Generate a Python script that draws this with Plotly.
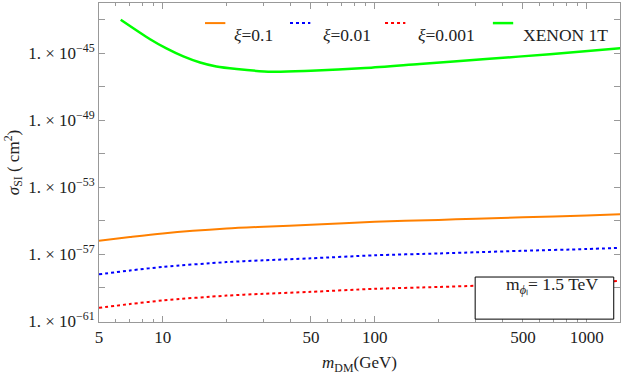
import plotly.graph_objects as go

# dark-matter mass (GeV) for the model curves
m_dm = [5, 7, 10, 20, 30, 50, 100, 200, 300, 500, 1000, 1450]
sigma_xi_01 = [6.5e-57, 1.1e-56, 1.8e-56, 3.5e-56, 4.5e-56, 5.9e-56, 8.9e-56,
               1.15e-55, 1.35e-55, 1.65e-55, 2.1e-55, 2.5e-55]
sigma_xi_001 = [6.5e-59, 1.1e-58, 1.8e-58, 3.5e-58, 4.5e-58, 5.9e-58, 8.9e-58,
                1.15e-57, 1.35e-57, 1.65e-57, 2.1e-57, 2.5e-57]
sigma_xi_0001 = [6.5e-61, 1.1e-60, 1.8e-60, 3.5e-60, 4.5e-60, 5.9e-60, 8.9e-60,
                 1.15e-59, 1.35e-59, 1.65e-59, 2.1e-59, 2.7e-59]

# XENON 1T limit
m_xenon = [6.33, 8.71, 10.4, 12.5, 15.0, 17.9, 22.3, 32.6, 50, 90, 163, 335, 670, 1450]
sigma_xenon = [1.0e-43, 6.9e-45, 1.95e-45, 6.5e-46, 2.8e-46, 1.62e-46, 1.15e-46,
               7.9e-47, 9.1e-47, 1.32e-46, 2.3e-46, 4.5e-46, 8.9e-46, 2.0e-45]

x_ticks = [5, 10, 50, 100, 500, 1000]
x_minor = [6, 7, 8, 9, 20, 30, 40, 60, 70, 80, 90, 200, 300, 400, 600, 700, 800, 900]
y_exps = [-61, -57, -53, -49, -45]
y_minor_exps = [-59, -55, -51, -47, -43]

FONT = "Liberation Serif"
TXT = "#222"

series = [
    ("<i>ξ</i>=0.1", m_dm, sigma_xi_01, "rgb(255,128,0)", "solid", 2),
    ("<i>ξ</i>=0.01", m_dm, sigma_xi_001, "rgb(0,0,255)", "dot", 2),
    ("<i>ξ</i>=0.001", m_dm, sigma_xi_0001, "rgb(255,0,0)", "dot", 2),
    ("XENON 1T", m_xenon, sigma_xenon, "rgb(0,255,0)", "solid", 2.5),
]

fig = go.Figure()
for name, xs, ys, color, dash, w in series:
    fig.add_trace(go.Scatter(x=xs, y=ys, name=name, mode="lines", showlegend=False,
                             line=dict(color=color, width=w, dash=dash, shape="spline", smoothing=0.8)))

# legend drawn by hand (Mathematica-style compact legend inside the frame)
legend_line_x = [0.2035, 0.3666, 0.549, 0.756]   # paper units
legend_text_x = [0.255, 0.426, 0.608, 0.810]
legend_y = 0.937
for (name, _, _, color, dash, w), lx, tx in zip(series, legend_line_x, legend_text_x):
    fig.add_shape(type="line", xref="paper", yref="paper", x0=lx, x1=lx + 0.039,
                  y0=legend_y, y1=legend_y, line=dict(color=color, width=w, dash=dash))
    fig.add_annotation(xref="paper", yref="paper", x=tx, y=legend_y, xanchor="left",
                       showarrow=False, text=name, font=dict(family=FONT, size=17.5, color=TXT))

axis_common = dict(showgrid=False, zeroline=False, showline=True, linecolor="#999",
                   linewidth=1, mirror="allticks", ticks="inside", tickcolor="#999",
                   automargin=False, tickfont=dict(family=FONT, size=17, color=TXT))

fig.update_xaxes(type="log", range=[0.699, 3.157], tickvals=x_ticks,
                 ticktext=[str(v) for v in x_ticks], ticklen=6,
                 minor=dict(tickvals=x_minor, ticks="inside", ticklen=3, tickcolor="#999"),
                 title=dict(text="<i>m</i><sub>DM</sub>(GeV)", font=dict(family=FONT, size=17, color=TXT),
                            standoff=16),
                 **axis_common)
fig.update_yaxes(type="log", range=[-61.03, -42.0], tickvals=[10.0 ** e for e in y_exps],
                 ticktext=[f"1. × 10<sup>−{-e}</sup>" for e in y_exps], ticklen=6,
                 minor=dict(tickvals=[10.0 ** e for e in y_minor_exps], ticks="inside",
                            ticklen=6, tickcolor="#999"),
                 title=dict(text="<i>σ</i><sub>SI</sub> ( cm<sup>2</sup>)",
                            font=dict(family=FONT, size=17, color=TXT), standoff=4),
                 **axis_common)

fig.add_shape(type="rect", xref="paper", yref="paper", x0=0.722, x1=0.988, y0=0.009, y1=0.141,
              line=dict(color="black", width=1), fillcolor="white", layer="above")
fig.add_annotation(xref="paper", yref="paper", x=0.962, y=0.072, xanchor="right", showarrow=False,
                   text="m<sub><i>ϕ</i>ₗ</sub>= 1.5 TeV",
                   font=dict(family=FONT, size=17.5, color=TXT))

fig.update_layout(
    width=623, height=375, margin=dict(l=99, r=3, t=3, b=53, autoexpand=False),
    plot_bgcolor="white", paper_bgcolor="white",
    showlegend=False,
)

fig.write_html("out.html", config={"displayModeBar": False},
               post_script="document.body.style.margin='0';document.body.style.overflow='hidden';")
